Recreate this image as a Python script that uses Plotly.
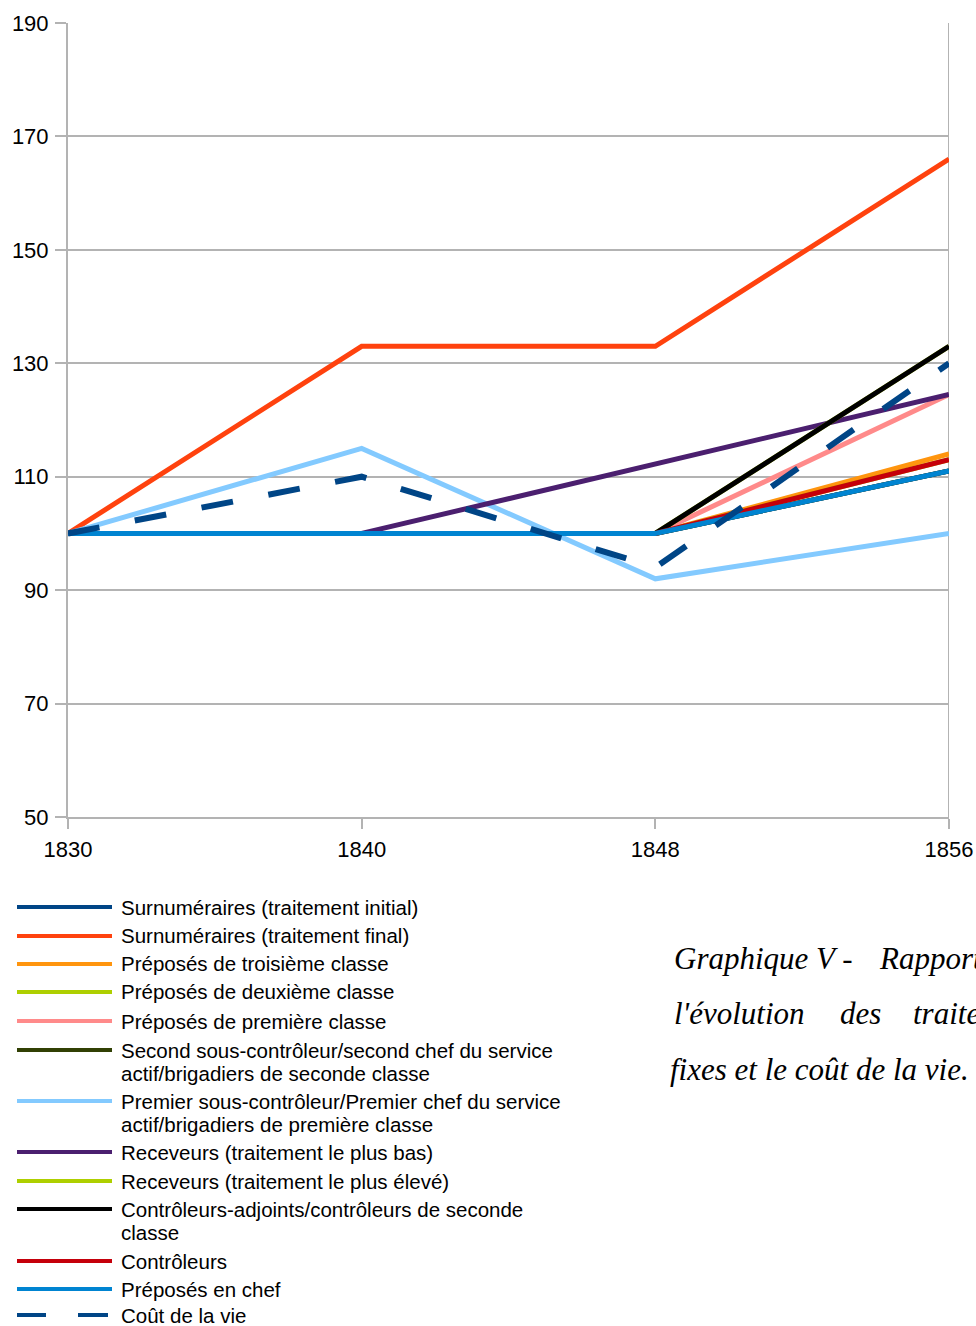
import plotly.graph_objects as go

years = ["1830", "1840", "1848", "1856"]

series_names = [
    "Surnuméraires (traitement initial)",
    "Surnuméraires (traitement final)",
    "Préposés de troisième classe",
    "Préposés de deuxième classe",
    "Préposés de première classe",
    "Second sous-contrôleur/second chef du service<br>actif/brigadiers de seconde classe",
    "Premier sous-contrôleur/Premier chef du service<br>actif/brigadiers de première classe",
    "Receveurs (traitement le plus bas)",
    "Receveurs (traitement le plus élevé)",
    "Contrôleurs-adjoints/contrôleurs de seconde<br>classe",
    "Contrôleurs",
    "Préposés en chef",
    "Coût de la vie",
]

surn_initial = [100, 100, 100, 111]
surn_final = [100, 133, 133, 166]
preposes_3 = [100, 100, 100, 114]
preposes_2 = [100, 100, 100, 113]
preposes_1 = [100, 100, 100, 124.5]
second_sous = [100, 100, 100, 111]
premier_sous = [100, 115, 92, 100]
receveurs_bas = [None, 100, 112.25, 124.5]
receveurs_haut = [100, 100, 100, 133]
controleurs_adj = [100, 100, 100, 133]
controleurs = [100, 100, 100, 113]
preposes_chef = [100, 100, 100, 111]
cout_vie = [100, 110, 94, 130]

series_values = [
    surn_initial, surn_final, preposes_3, preposes_2, preposes_1, second_sous,
    premier_sous, receveurs_bas, receveurs_haut, controleurs_adj, controleurs,
    preposes_chef, cout_vie,
]

colors = [
    "#004586", "#ff420e", "#ff950e", "#aecf00", "#ff8a8a", "#314004",
    "#83caff", "#4b1f6f", "#aecf00", "#000000", "#c5000b", "#0084d1", "#004586",
]

y_ticks = [50, 70, 90, 110, 130, 150, 170, 190]

caption_words = [
    ["Graphique V -", "Rapport entre"],
    ["l'évolution", "des", "traitements"],
    ["fixes et le coût de la vie."],
]

fig = go.Figure()
xs = list(range(len(years)))
for name, vals, col in zip(series_names, series_values, colors):
    dashed = name == "Coût de la vie"
    fig.add_trace(go.Scatter(
        x=xs, y=vals, mode="lines", name=name.replace("<br>", " "),
        line=dict(color=col, width=6 if dashed else 5,
                  dash="32px,36px" if dashed else "solid"),
        connectgaps=False, showlegend=False, hoverinfo="skip",
    ))

W, H = 976, 1326
PL, PR, PT, PB = 68, 949, 23, 817  # plot area in page pixels
ml, mr, mt, mb = PL, W - PR, PT, H - PB
grid = "#b3b3b3"
tick_font = dict(family="Liberation Sans", size=22, color="#000")

fig.update_layout(
    width=W, height=H,
    margin=dict(l=ml, r=mr, t=mt, b=mb, pad=0, autoexpand=False),
    paper_bgcolor="white", plot_bgcolor="white",
    font=dict(family="Liberation Sans", color="#000000"),
    showlegend=False,
)
fig.update_xaxes(
    range=[0, 3], tickvals=xs, ticktext=years, showgrid=False,
    showline=True, linecolor=grid, linewidth=2,
    ticks="outside", ticklen=10, tickcolor=grid, tickwidth=2,
    tickfont=tick_font, zeroline=False, automargin=False,
    ticklabeloverflow="allow", ticklabelstandoff=2,
)
fig.update_yaxes(
    range=[50, 190], tickvals=y_ticks, showgrid=True, gridcolor=grid, gridwidth=2,
    showline=True, linecolor=grid, linewidth=2,
    ticks="outside", ticklen=11, tickcolor=grid, tickwidth=2,
    tickfont=tick_font, zeroline=False, automargin=False,
    ticklabeloverflow="allow", ticklabelstandoff=2,
)
fig.add_shape(type="line", xref="x", yref="paper", x0=3, x1=3, y0=0, y1=1,
              line=dict(color=grid, width=2), layer="below")

pw = PR - PL
ph = PB - PT
def px_x(x):
    return (x - PL) / pw
def px_y(y):
    return (PB - y) / ph

legend_font = dict(family="Liberation Sans", size=20.5, color="#000")
row_y = [907, 936, 964, 992, 1021, 1050, 1101, 1152, 1181, 1209, 1261, 1289, 1315]
for name, col, ry in zip(series_names, colors, row_y):
    if name == "Coût de la vie":
        segs = [(17, 46), (78, 108)]
    else:
        segs = [(17, 112)]
    for a, b in segs:
        fig.add_shape(type="line", xref="paper", yref="paper",
                      x0=px_x(a), x1=px_x(b), y0=px_y(ry), y1=px_y(ry),
                      line=dict(color=col, width=4))
    for k, part in enumerate(name.split("<br>")):
        fig.add_annotation(xref="paper", yref="paper", x=px_x(119),
                           y=px_y(ry + 23 * k), text=part, showarrow=False,
                           xanchor="left", yanchor="middle", align="left",
                           font=legend_font)

cap_font = dict(family="Liberation Serif", size=31, color="#000")
cap_pos = [
    [(672, 958), (877, 958)],
    [(672, 1013), (838, 1013), (911, 1013)],
    [(668, 1069)],
]
for words, poss in zip(caption_words, cap_pos):
    for w, (cx, cy) in zip(words, poss):
        fig.add_annotation(xref="paper", yref="paper", x=px_x(cx), y=px_y(cy),
                           text="<i>" + w + "</i>", showarrow=False,
                           xanchor="left", yanchor="middle", font=cap_font)

fig.write_html(
    "out.html",
    config={"displayModeBar": False},
    post_script="document.body.style.margin='0';"
                "document.documentElement.style.overflow='hidden';"
                "document.body.style.overflow='hidden';",
)
